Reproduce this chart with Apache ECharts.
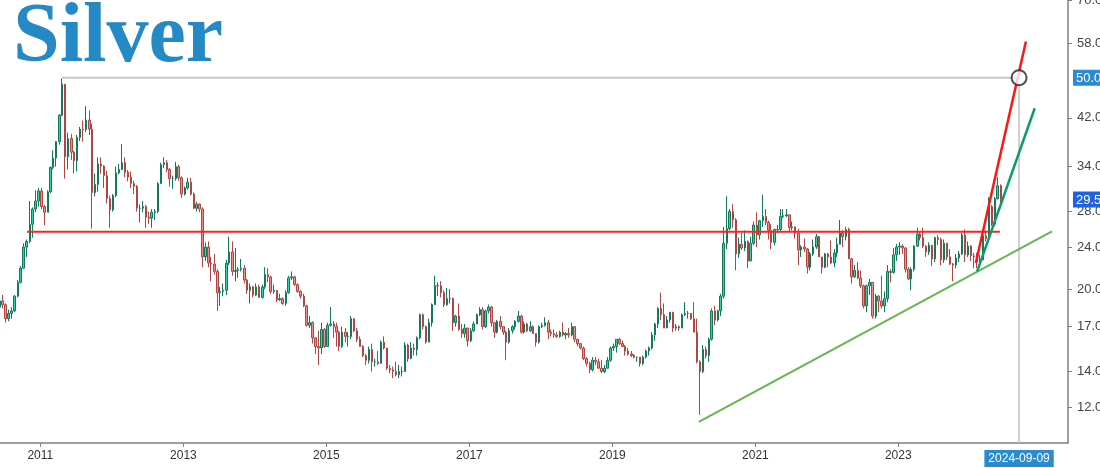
<!DOCTYPE html>
<html><head><meta charset="utf-8">
<script src="https://cdn.jsdelivr.net/npm/echarts@6/dist/echarts.min.js"></script>
<style>html,body{margin:0;padding:0;background:#fff}#c{width:1100px;height:468px}</style>
</head><body><div id="c"></div>
<script>
// Half-month candles: each month has a first-half (day 08) and second-half (day 23) candle; Jun 2024 has only the first half
const months = [
'2010-06','2010-07','2010-08','2010-09','2010-10','2010-11','2010-12',
'2011-01','2011-02','2011-03','2011-04','2011-05','2011-06','2011-07','2011-08','2011-09','2011-10','2011-11','2011-12',
'2012-01','2012-02','2012-03','2012-04','2012-05','2012-06','2012-07','2012-08','2012-09','2012-10','2012-11','2012-12',
'2013-01','2013-02','2013-03','2013-04','2013-05','2013-06','2013-07','2013-08','2013-09','2013-10','2013-11','2013-12',
'2014-01','2014-02','2014-03','2014-04','2014-05','2014-06','2014-07','2014-08','2014-09','2014-10','2014-11','2014-12',
'2015-01','2015-02','2015-03','2015-04','2015-05','2015-06','2015-07','2015-08','2015-09','2015-10','2015-11','2015-12',
'2016-01','2016-02','2016-03','2016-04','2016-05','2016-06','2016-07','2016-08','2016-09','2016-10','2016-11','2016-12',
'2017-01','2017-02','2017-03','2017-04','2017-05','2017-06','2017-07','2017-08','2017-09','2017-10','2017-11','2017-12',
'2018-01','2018-02','2018-03','2018-04','2018-05','2018-06','2018-07','2018-08','2018-09','2018-10','2018-11','2018-12',
'2019-01','2019-02','2019-03','2019-04','2019-05','2019-06','2019-07','2019-08','2019-09','2019-10','2019-11','2019-12',
'2020-01','2020-02','2020-03','2020-04','2020-05','2020-06','2020-07','2020-08','2020-09','2020-10','2020-11','2020-12',
'2021-01','2021-02','2021-03','2021-04','2021-05','2021-06','2021-07','2021-08','2021-09','2021-10','2021-11','2021-12',
'2022-01','2022-02','2022-03','2022-04','2022-05','2022-06','2022-07','2022-08','2022-09','2022-10','2022-11','2022-12',
'2023-01','2023-02','2023-03','2023-04','2023-05','2023-06','2023-07','2023-08','2023-09','2023-10','2023-11','2023-12',
'2024-01','2024-02','2024-03','2024-04','2024-05','2024-06'
];
const halfDays = ['08', '23'];
const opens = [
18.5,19.0,18.7,17.6,18.0,18.2,19.4,20.6,21.9,24.0,24.6,26.5,28.3,29.3,
30.6,28.6,27.9,30.5,33.9,35.3,37.9,42.5,48.6,35.5,38.4,36.2,34.9,38.6,40.0,39.9,41.6,40.0,30.4,31.5,34.4,34.1,32.7,29.6,
28.2,30.0,33.1,33.6,34.6,33.2,32.5,31.6,31.2,28.4,28.4,28.6,27.3,27.2,27.9,28.0,31.6,34.3,34.6,33.6,32.3,32.3,34.0,32.4,
30.2,31.0,31.8,30.2,28.4,28.9,28.3,23.0,24.0,22.4,22.3,21.6,19.7,19.8,19.9,22.4,23.5,21.6,21.7,21.8,21.9,20.8,19.9,20.2,
19.5,20.2,19.3,20.2,21.3,21.1,19.8,19.9,19.1,19.2,18.8,19.7,21.0,21.1,20.4,19.8,19.4,18.6,17.1,17.3,16.2,15.6,15.5,16.8,
15.6,17.1,17.2,17.0,16.6,15.6,16.6,16.3,16.3,17.6,16.7,16.1,15.6,15.0,14.7,15.4,14.6,14.6,14.5,15.9,15.5,14.2,14.1,14.0,
13.8,14.0,14.0,15.7,14.8,15.5,15.4,16.2,17.9,17.0,15.9,17.3,18.7,20.3,20.3,19.7,18.7,19.2,19.2,17.3,17.8,16.8,16.5,16.9,
16.0,16.7,17.2,17.9,18.3,17.0,18.2,18.5,17.3,16.6,17.4,17.0,16.6,15.9,16.7,17.0,17.4,17.8,16.6,17.2,16.7,17.0,16.5,15.9,
17.0,17.1,17.3,16.6,16.5,16.4,16.3,16.6,16.4,16.5,16.4,17.0,16.1,15.8,15.5,14.8,14.5,14.1,14.7,14.6,14.2,14.0,14.2,14.7,
15.5,15.6,16.1,15.8,15.6,15.3,15.1,15.0,14.9,14.9,14.5,14.9,15.3,15.5,16.4,17.2,18.4,17.9,16.9,17.5,18.1,16.9,17.0,16.9,
17.9,18.0,18.0,17.6,16.6,14.6,14.0,15.4,15.0,16.1,18.2,17.5,18.2,19.4,24.4,26.0,28.0,27.0,23.3,24.3,23.9,24.6,22.6,24.4,
26.4,25.3,26.9,27.4,26.7,25.8,24.5,25.9,25.9,27.4,27.5,27.6,26.1,26.2,25.5,23.7,24.0,23.8,22.0,23.3,24.0,25.1,23.0,22.0,
23.3,23.0,22.4,23.4,24.3,25.5,25.1,25.9,22.8,21.1,21.7,21.0,20.3,18.6,20.3,20.6,17.8,19.4,19.0,18.6,19.2,21.6,21.5,23.2,
24.0,24.1,23.9,21.8,20.9,21.8,24.1,25.4,25.0,24.1,23.5,24.2,22.8,25.0,24.8,22.7,24.4,23.0,22.3,22.2,22.9,23.3,25.3,23.2,
24.1,23.1,23.0,22.5,22.7,25.2,24.9,28.6,26.5,29.6,31.3
];
const closes = [
19.0,18.7,17.6,18.0,18.2,19.4,20.6,21.9,24.0,24.6,26.5,28.3,29.3,30.6,
28.6,27.9,30.5,33.9,35.3,37.9,42.5,48.6,35.5,38.4,36.2,34.9,38.6,40.0,39.9,41.6,40.0,30.4,31.5,34.4,34.1,32.7,29.6,28.2,
30.0,33.1,33.6,34.6,33.2,32.5,31.6,31.2,28.4,28.4,28.6,27.3,27.2,27.9,28.0,31.6,34.3,34.6,33.6,32.3,32.3,34.0,32.4,30.2,
31.0,31.8,30.2,28.4,28.9,28.3,23.0,24.0,22.4,22.3,21.6,19.7,19.8,19.9,22.4,23.5,21.6,21.7,21.8,21.9,20.8,19.9,20.2,19.5,
20.2,19.3,20.2,21.3,21.1,19.8,19.9,19.1,19.2,18.8,19.7,21.0,21.1,20.4,19.8,19.4,18.6,17.1,17.3,16.2,15.6,15.5,16.8,15.6,
17.1,17.2,17.0,16.6,15.6,16.6,16.3,16.3,17.6,16.7,16.1,15.6,15.0,14.7,15.4,14.6,14.6,14.5,15.9,15.5,14.2,14.1,14.0,13.8,
14.0,14.0,15.7,14.8,15.5,15.4,16.2,17.9,17.0,15.9,17.3,18.7,20.3,20.3,19.7,18.7,19.2,19.2,17.3,17.8,16.8,16.5,16.9,16.0,
16.7,17.2,17.9,18.3,17.0,18.2,18.5,17.3,16.6,17.4,17.0,16.6,15.9,16.7,17.0,17.4,17.8,16.6,17.2,16.7,17.0,16.5,15.9,17.0,
17.1,17.3,16.6,16.5,16.4,16.3,16.6,16.4,16.5,16.4,17.0,16.1,15.8,15.5,14.8,14.5,14.1,14.7,14.6,14.2,14.0,14.2,14.7,15.5,
15.6,16.1,15.8,15.6,15.3,15.1,15.0,14.9,14.9,14.5,14.9,15.3,15.5,16.4,17.2,18.4,17.9,16.9,17.5,18.1,16.9,17.0,16.9,17.9,
18.0,18.0,17.6,16.6,14.6,14.0,15.4,15.0,16.1,18.2,17.5,18.2,19.4,24.4,26.0,28.0,27.0,23.3,24.3,23.9,24.6,22.6,24.4,26.4,
25.3,26.9,27.4,26.7,25.8,24.5,25.9,25.9,27.4,27.5,27.6,26.1,26.2,25.5,23.7,24.0,23.8,22.0,23.3,24.0,25.1,23.0,22.0,23.3,
23.0,22.4,23.4,24.3,25.5,25.1,25.9,22.8,21.1,21.7,21.0,20.3,18.6,20.3,20.6,17.8,19.4,19.0,18.6,19.2,21.6,21.5,23.2,24.0,
24.1,23.9,21.8,20.9,21.8,24.1,25.4,25.0,24.1,23.5,24.2,22.8,25.0,24.8,22.7,24.4,23.0,22.3,22.2,22.9,23.3,25.3,23.2,24.1,
23.1,23.0,22.5,22.7,25.2,24.9,28.6,26.5,29.6,31.3,29.5
];
const highs = [
19.2,19.5,18.8,18.3,18.5,19.5,20.8,22.1,24.4,24.8,29.3,28.5,30.7,31.0,
31.0,28.8,30.7,34.0,36.5,38.0,42.7,49.8,48.6,39.4,39.2,36.4,39.0,40.4,41.5,44.2,43.4,41.0,33.0,35.4,35.4,34.2,33.4,30.0,
30.2,34.0,34.4,37.5,35.4,33.5,33.3,32.0,31.4,28.9,29.3,28.8,28.0,28.3,28.3,31.8,34.6,35.4,35.0,33.8,32.7,34.7,34.3,32.6,
31.2,32.4,32.4,30.4,29.2,29.0,28.5,24.5,24.6,23.0,23.3,21.8,20.2,20.5,22.7,25.1,24.6,23.9,22.0,22.8,22.2,20.9,20.5,20.3,
20.5,20.4,20.4,22.0,21.9,21.2,20.4,19.9,19.6,19.3,19.9,21.2,21.6,21.2,20.5,19.9,19.6,18.7,17.8,17.4,16.2,16.7,17.3,16.9,
17.3,18.5,17.4,17.3,16.7,17.0,16.9,16.6,17.8,17.6,16.9,16.3,15.7,15.1,15.6,15.8,14.8,15.3,16.0,16.3,15.5,14.4,14.3,14.6,
14.4,14.3,15.9,15.8,15.9,15.8,16.3,18.0,18.0,17.1,17.6,18.8,21.2,20.6,20.7,19.9,20.1,20.0,19.3,17.9,18.8,17.2,17.2,16.9,
16.9,17.4,18.0,18.5,18.5,18.3,18.7,18.6,17.3,17.5,17.8,17.0,16.7,16.9,17.1,17.5,18.2,17.9,17.4,17.3,17.4,17.1,16.5,17.1,
17.3,17.7,17.5,16.8,16.8,16.6,16.7,17.3,16.6,16.9,17.3,17.0,16.1,15.8,15.6,14.9,14.6,14.9,14.9,14.8,14.7,14.4,14.9,15.6,
15.8,16.1,16.2,16.0,15.7,15.5,15.3,15.1,14.9,14.9,15.0,15.4,15.6,16.6,17.3,18.5,19.7,18.8,17.8,18.1,18.1,17.2,17.1,18.0,
18.9,18.2,18.0,18.9,17.6,14.7,15.7,15.6,16.2,18.4,18.6,18.3,19.6,26.2,29.9,28.3,28.9,27.2,25.0,25.5,25.8,24.7,25.1,26.8,
27.9,27.0,30.1,28.3,26.9,26.5,26.0,26.4,28.3,28.3,28.3,27.6,26.8,26.2,26.0,24.2,24.9,23.9,23.5,24.8,25.4,25.2,23.0,23.4,
23.4,24.7,23.8,25.0,27.0,25.8,26.2,26.1,22.9,22.2,22.5,21.7,20.4,20.4,20.9,20.6,19.6,19.5,21.2,19.8,22.2,21.8,23.9,24.3,
24.5,24.3,24.0,22.0,22.0,24.2,26.1,25.6,26.1,24.2,24.5,24.2,25.1,25.3,25.0,24.8,24.4,23.8,22.4,23.3,23.6,25.5,25.9,24.6,
24.2,23.4,23.4,23.2,25.3,25.8,29.8,28.8,29.8,32.5,31.5
];
const lows = [
17.9,18.4,17.3,17.4,17.6,18.1,19.3,20.5,21.9,23.0,24.4,25.0,27.9,28.6,
28.3,26.4,27.9,30.3,33.6,34.0,37.4,42.3,32.3,33.6,35.0,33.0,33.3,38.0,37.9,39.5,39.0,26.0,29.9,30.5,33.0,31.0,29.0,26.1,
28.0,29.8,32.9,33.5,32.5,31.9,31.0,30.2,28.0,26.7,27.9,26.1,26.5,26.1,27.0,27.8,31.6,33.8,33.2,31.2,30.9,32.0,32.0,29.7,
30.0,30.8,30.0,28.3,28.0,27.9,22.0,22.6,22.0,20.7,21.3,18.2,18.6,19.4,19.5,22.2,21.2,20.7,21.0,21.6,20.5,19.6,18.8,19.3,
19.4,19.3,19.2,20.0,20.6,19.6,19.6,18.9,19.0,18.7,18.6,19.6,20.8,20.3,19.7,19.2,18.5,17.0,16.9,15.8,15.1,14.4,15.1,15.5,
15.6,17.0,16.2,15.6,15.3,15.5,15.9,15.6,16.1,16.6,15.9,15.6,14.9,14.4,14.5,14.0,14.3,14.4,14.5,15.4,14.1,13.9,13.6,13.7,
13.6,13.7,14.0,14.6,14.8,15.0,15.0,16.1,16.8,15.8,15.9,17.0,18.7,19.4,19.3,18.5,18.6,18.8,16.7,17.0,16.7,16.2,16.2,15.6,
15.9,16.6,17.2,17.8,16.8,16.9,18.0,17.0,16.2,16.5,16.8,16.4,14.7,15.8,16.5,16.8,17.3,16.5,16.5,16.6,16.6,16.5,15.6,15.8,
16.9,17.0,16.1,16.3,16.2,16.2,16.2,16.3,16.1,16.2,16.3,15.9,15.6,15.4,14.7,14.3,13.9,14.0,14.4,14.2,13.9,13.9,14.2,14.6,
15.3,15.2,15.7,15.6,15.0,15.0,14.9,14.8,14.6,14.3,14.4,14.8,15.0,15.4,16.0,16.9,17.5,16.9,16.9,17.3,16.6,16.7,16.7,16.9,
17.8,17.6,17.5,16.6,14.5,11.6,13.9,14.8,14.6,16.0,17.1,17.4,17.8,19.2,23.8,25.8,26.1,21.7,22.9,23.7,23.6,21.9,22.6,24.2,
24.0,24.8,26.2,26.4,24.8,23.8,24.2,25.5,25.6,27.2,27.3,25.6,25.8,24.9,22.2,23.0,23.5,21.4,21.7,23.1,23.8,23.0,21.4,21.9,
22.0,22.3,22.0,23.0,24.8,24.0,24.7,22.8,20.5,21.0,20.9,20.1,18.4,18.1,19.5,17.6,17.6,18.1,18.4,18.1,18.9,20.6,21.4,22.6,
23.2,23.3,21.5,20.8,19.9,21.6,24.0,24.7,23.9,23.0,23.2,22.1,22.5,24.2,22.2,22.4,22.7,22.2,20.7,21.9,22.5,23.2,22.5,23.0,
22.6,21.9,21.9,22.3,22.7,24.6,24.8,26.3,26.3,29.5,28.6
];
const yTicks = [12, 14, 17, 20, 24, 28, 34, 42, 58, 70];
const xTickYears = ['2011', '2013', '2015', '2017', '2019', '2021', '2023'];
const cursorDate = '2024-09-09';
const peakLevel = 50;
const lastPrice = 29.5;
const resistanceLine = [['2010-10-25', 25.66], ['2024-06-03', 25.66]];
const peakLine = [['2011-04-22', 50], ['2024-09-09', 50]];
const cursorLine = [['2024-09-09', 50], ['2024-09-09', 10.27]];
const supportTrend = [['2020-03-18', 11.25], ['2025-02-24', 25.7]];
const steepRed = [['2024-02-01', 22.4], ['2024-10-14', 58.5]];
const steepTeal = [['2024-02-08', 21.6], ['2024-11-28', 43.8]];
const targetPoint = [['2024-09-09', 50]];
const xRange = ['2010-06-09', '2025-05-17'];
const yRange = [10.27, 70];

// dates are placed on a linear (value) axis as timestamps
const ts = s => Date.UTC(+s.slice(0, 4), +s.slice(5, 7) - 1, +s.slice(8, 10));
const toPts = arr => arr.map(p => [ts(p[0]), p[1]]);
const candleDates = [];
months.forEach(m => halfDays.forEach(d => candleDates.push(m + '-' + d)));
const candles = opens.map((o, i) => [ts(candleDates[i]), o, closes[i], lows[i], highs[i]]);
const cursorTs = ts(cursorDate);
const xTickVals = xTickYears.map(y => ts(y + '-01-01'));
const xLabelVals = xTickVals.concat([cursorTs]);

const lineS = (name, data, color, width, z) => ({
  name, type: 'line', data: toPts(data), symbol: 'none', silent: true, z: z || 3,
  lineStyle: { color, width }, animation: false
});
const logAxisBase = {
  type: 'log', logBase: 10, position: 'right', min: yRange[0], max: yRange[1], splitLine: { show: false }
};

const chart = echarts.init(document.getElementById('c'));
chart.setOption({
  animation: false,
  backgroundColor: '#fff',
  title: {
    text: 'Silver', left: 8, top: -8,
    textStyle: { fontFamily: 'Liberation Serif', fontWeight: 'bold', fontSize: 84, color: '#2589c6' }
  },
  grid: { left: 0, right: 32, top: 0, bottom: 25, containLabel: false, outerBoundsMode: 'none' },
  xAxis: {
    type: 'value', min: ts(xRange[0]), max: ts(xRange[1]), scale: true,
    axisLine: { show: true, onZero: false, lineStyle: { color: '#808080', width: 1.5 } },
    axisTick: { show: true, length: 4, customValues: xTickVals, lineStyle: { color: '#808080' } },
    axisLabel: {
      customValues: xLabelVals, color: '#333', fontSize: 12, margin: 7, fontFamily: 'Liberation Sans',
      formatter: v => Math.abs(v - cursorTs) < 1000 ? '{hl|' + cursorDate + '}' : String(new Date(v).getUTCFullYear()),
      rich: { hl: { backgroundColor: '#2a8ccf', color: '#fff', padding: [3, 4, 2, 4], fontSize: 12, fontFamily: 'Liberation Sans' } }
    },
    splitLine: { show: false }
  },
  yAxis: [
    Object.assign({}, logAxisBase, {
      axisLine: { show: true, lineStyle: { color: '#808080', width: 1.5 } },
      axisTick: { show: true, length: 4, customValues: yTicks, lineStyle: { color: '#808080' } },
      axisLabel: { customValues: yTicks, color: '#444', fontSize: 13, margin: 9, fontFamily: 'Liberation Sans',
        formatter: v => Number(v).toFixed(2) }
    }),
    Object.assign({}, logAxisBase, {
      axisLine: { show: false }, axisTick: { show: false },
      axisLabel: {
        customValues: [peakLevel, lastPrice], margin: 5, fontSize: 13, fontFamily: 'Liberation Sans',
        formatter: v => Math.abs(v - peakLevel) < 0.01 ? '{a|' + peakLevel.toFixed(2) + '}' : '{b|' + lastPrice.toFixed(2) + '}',
        rich: {
          a: { backgroundColor: '#2a8ccf', color: '#fff', padding: [2, 4, 1, 3], fontSize: 13, fontFamily: 'Liberation Sans' },
          b: { backgroundColor: '#1f63e0', color: '#fff', padding: [2, 4, 1, 3], fontSize: 13, fontFamily: 'Liberation Sans' }
        }
      }
    })
  ],
  series: [
    {
      name: 'Silver', type: 'candlestick', data: candles, encode: { x: 0, y: [1, 2, 3, 4] },
      barWidth: 2, z: 2,
      itemStyle: { color: '#2bd6a3', color0: '#f58b86', borderColor: '#127a5b', borderColor0: '#b04542', borderWidth: 1 }
    },
    lineS('Resistance', resistanceLine, '#ff2020', 2),
    lineS('Peak', peakLine, '#c8c8c8', 2),
    lineS('Cursor', cursorLine, '#c0c0c0', 1.5),
    lineS('Support trend', supportTrend, '#66b650', 2),
    lineS('Steep red', steepRed, '#ff1515', 2.5, 4),
    lineS('Steep teal', steepTeal, '#0c9a6e', 2.5, 4),
    {
      name: 'Target', type: 'scatter', data: toPts(targetPoint), symbol: 'circle', symbolSize: 15, z: 6, silent: true,
      itemStyle: { color: '#fff', borderColor: '#222', borderWidth: 2 }
    }
  ]
});
</script>
</body></html>
